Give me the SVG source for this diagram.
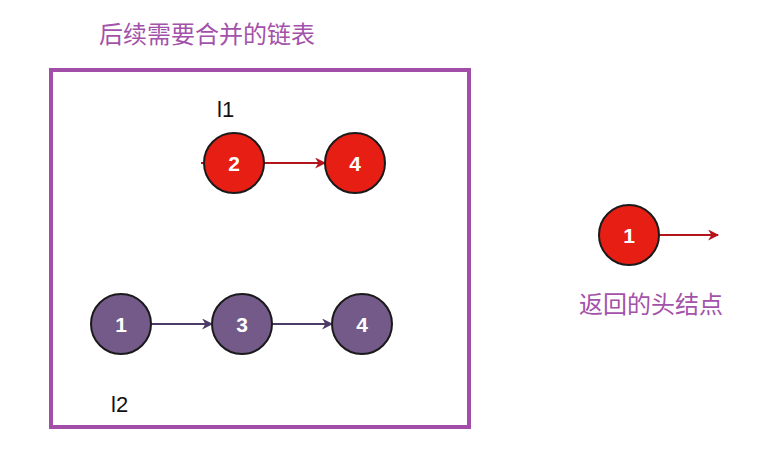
<svg xmlns="http://www.w3.org/2000/svg" width="763" height="454" viewBox="0 0 763 454">
<style>
.red{fill:#e61e14;stroke:#1a1a1a;stroke-width:2}
.pur{fill:#735a88;stroke:#1a1a1a;stroke-width:2}
.num{font-family:"Liberation Sans",Arial,sans-serif;font-weight:bold;font-size:21px;fill:#fff;text-anchor:middle}
.lbl{font-family:"Liberation Sans",Arial,sans-serif;font-size:22px;fill:#111}
.cap{font-family:"Noto Sans CJK SC","Noto Sans",sans-serif;font-size:24px;fill:#a352aa}
.ra{stroke:#b3151b;stroke-width:2;fill:none}
.pa{stroke:#4b3b66;stroke-width:2;fill:none}
</style>
<defs>
<marker id="mr" viewBox="0 0 10 10" refX="9" refY="5" markerWidth="12" markerHeight="11" orient="auto" markerUnits="userSpaceOnUse"><path d="M0,0 L10,5 L0,10 L3,5 z" fill="#b3151b"/></marker>
<marker id="mp" viewBox="0 0 10 10" refX="9" refY="5" markerWidth="12" markerHeight="11" orient="auto" markerUnits="userSpaceOnUse"><path d="M0,0 L10,5 L0,10 L3,5 z" fill="#4b3b66"/></marker>
</defs>
<rect width="763" height="454" fill="#fff"/>
<text class="cap" x="99" y="43">后续需要合并的链表</text>
<rect x="51" y="70" width="418" height="357" fill="none" stroke="#a24ea8" stroke-width="4"/>
<text class="lbl" x="217" y="117">l1</text>
<text class="lbl" x="111" y="412">l2</text>
<text class="cap" x="579" y="313">返回的头结点</text>
<g id="connectors">
<line class="ra" x1="201" y1="163" x2="205" y2="163"/>
<line class="ra" x1="264" y1="163" x2="325" y2="163" marker-end="url(#mr)"/>
<line class="pa" x1="151" y1="324" x2="212" y2="324" marker-end="url(#mp)"/>
<line class="pa" x1="272" y1="324" x2="332" y2="324" marker-end="url(#mp)"/>
<line class="ra" x1="659" y1="235" x2="718" y2="235" marker-end="url(#mr)"/>
</g>
<g id="l1-2"><circle class="red" cx="234" cy="163" r="30"/><text class="num" x="234" y="170.5">2</text></g>
<g id="l1-4"><circle class="red" cx="355" cy="163" r="30"/><text class="num" x="355" y="170.5">4</text></g>
<g id="l2-1"><circle class="pur" cx="121" cy="324" r="30"/><text class="num" x="121" y="331.5">1</text></g>
<g id="l2-3"><circle class="pur" cx="242" cy="324" r="30"/><text class="num" x="242" y="331.5">3</text></g>
<g id="l2-4"><circle class="pur" cx="362" cy="324" r="30"/><text class="num" x="362" y="331.5">4</text></g>
<g id="head-1"><circle class="red" cx="629" cy="235" r="30"/><text class="num" x="629" y="242.5">1</text></g>
</svg>
